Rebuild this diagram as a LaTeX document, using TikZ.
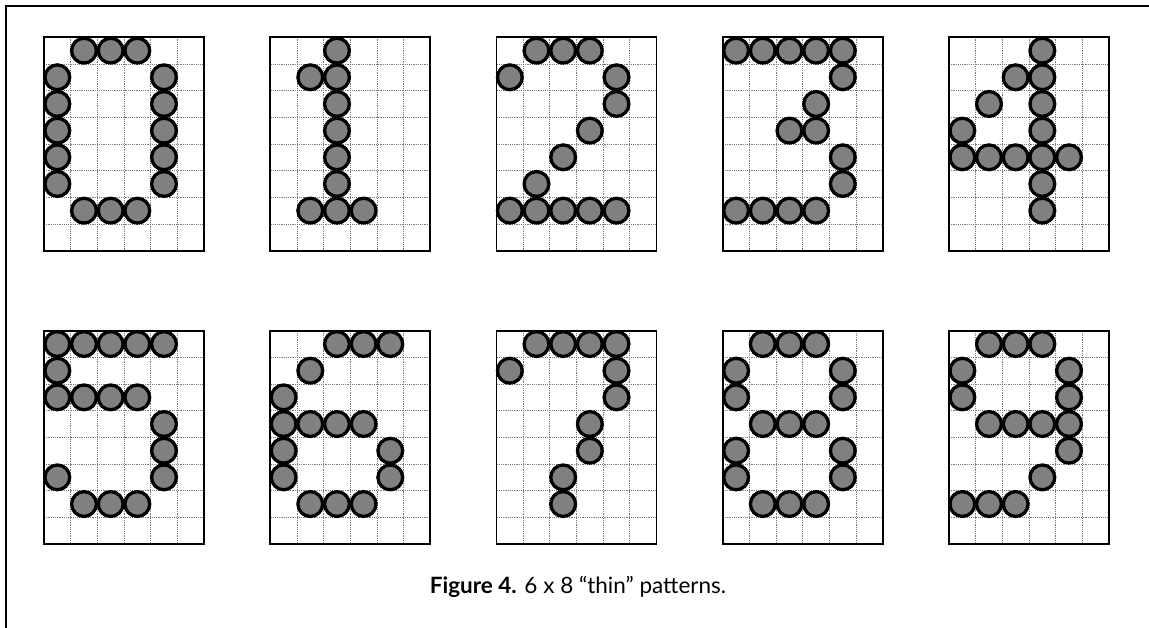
\documentclass[tikz,border=0pt]{standalone}
\usepackage{fontspec}
\setmainfont{Lato}
\definecolor{dotfill}{HTML}{808080}
\definecolor{gridgray}{HTML}{7A7A7A}
\newcommand\cs{26.667}
\newcommand\digitpat[3]{%
  \begin{scope}[shift={(#1,#2)}]
    \foreach \i in {1,...,5} \draw[gridline] (\i*\cs,0) -- (\i*\cs,8*\cs);
    \foreach \j in {1,...,7} \draw[gridline] (0,\j*\cs) -- (6*\cs,\j*\cs);
    \draw[boxline] (0,0) rectangle (6*\cs,8*\cs);
    \foreach \c/\r in {#3} \draw[dot] ({(\c+0.5)*\cs},{(\r+0.5)*\cs}) circle (12.4pt);
  \end{scope}}
\begin{document}
\begin{tikzpicture}[x=1pt,y=-1pt,
  gridline/.style={draw=gridgray,line width=0.7pt,dash pattern=on 1.2pt off 1pt},
  boxline/.style={draw=black,line width=1.8pt},
  dot/.style={draw=black,fill=dotfill,line width=3.3pt},
  frameline/.style={draw=black,line width=2pt}]
\useasboundingbox (0,0) rectangle (1149,628);
\fill[white] (0,0) rectangle (1149,628);
\draw[frameline] (5.5,630) -- (5.5,5.7) -- (1151,5.7);
% row 1
\digitpat{44}{37.3}{1/0,2/0,3/0,0/1,4/1,0/2,4/2,0/3,4/3,0/4,4/4,0/5,4/5,1/6,2/6,3/6}
\digitpat{270.3}{37.3}{2/0,1/1,2/1,2/2,2/3,2/4,2/5,1/6,2/6,3/6}
\digitpat{496.5}{37.3}{1/0,2/0,3/0,0/1,4/1,4/2,3/3,2/4,1/5,0/6,1/6,2/6,3/6,4/6}
\digitpat{722.8}{37.3}{0/0,1/0,2/0,3/0,4/0,4/1,3/2,2/3,3/3,4/4,4/5,0/6,1/6,2/6,3/6}
\digitpat{949}{37.3}{3/0,2/1,3/1,1/2,3/2,0/3,3/3,0/4,1/4,2/4,3/4,4/4,3/5,3/6}
% row 2
\digitpat{44}{330.7}{0/0,1/0,2/0,3/0,4/0,0/1,0/2,1/2,2/2,3/2,4/3,4/4,0/5,4/5,1/6,2/6,3/6}
\digitpat{270.3}{330.7}{2/0,3/0,4/0,1/1,0/2,0/3,1/3,2/3,3/3,0/4,4/4,0/5,4/5,1/6,2/6,3/6}
\digitpat{496.5}{330.7}{1/0,2/0,3/0,4/0,0/1,4/1,4/2,3/3,3/4,2/5,2/6}
\digitpat{722.8}{330.7}{1/0,2/0,3/0,0/1,4/1,0/2,4/2,1/3,2/3,3/3,0/4,4/4,0/5,4/5,1/6,2/6,3/6}
\digitpat{949}{330.7}{1/0,2/0,3/0,0/1,4/1,0/2,4/2,1/3,2/3,3/3,4/3,4/4,3/5,0/6,1/6,2/6}
\node[font=\fontsize{22.5}{26}\selectfont, inner sep=0pt] (cap) at (578,587) {\textbf{Figure 4.} 6 x 8 “thin” patterns.};
\end{tikzpicture}
\end{document}
